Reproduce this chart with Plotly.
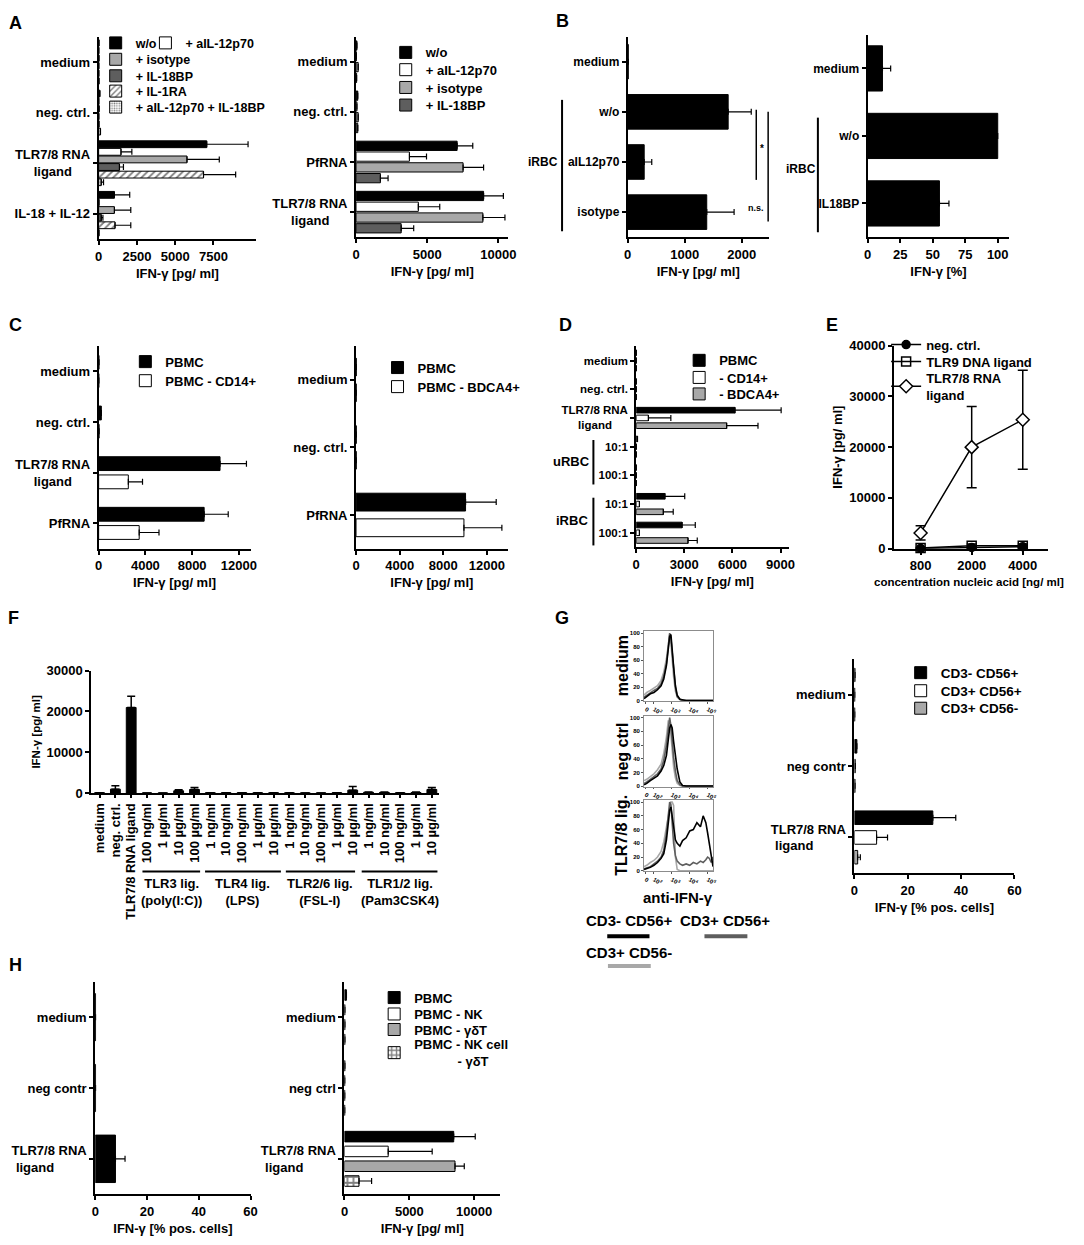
import plotly.graph_objects as go

W, H = 1084, 1245
NB = "\u00a0"

# ======================= DATA =======================
# ---- Panel A (left) ----
a1_categories = ["medium", "neg. ctrl.", "TLR7/8 RNA ligand", "IL-18 + IL-12"]
a1_ticktext = ["medium", "neg. ctrl.", "TLR7/8 RNA<br>ligand" + NB * 5, "IL-18 + IL-12"]
a1_wo = [20, 80, 7060, 1030]
a1_wo_err = [0, 0, 2700, 1000]
a1_ail12 = [10, 10, 1460, 20]
a1_ail12_err = [0, 0, 710, 0]
a1_isotype = [20, 30, 5770, 1030]
a1_isotype_err = [0, 0, 2110, 1070]
a1_il18bp = [10, 10, 1360, 170]
a1_il18bp_err = [0, 0, 260, 110]
a1_il1ra = [10, 20, 6850, 1070]
a1_il1ra_err = [0, 0, 2100, 1030]
a1_combo = [20, 120, 170, 20]
a1_combo_err = [0, 0, 150, 0]
a1_ticks = [0, 2500, 5000, 7500]

# ---- Panel A (right) ----
a2_categories = ["medium", "neg. ctrl.", "PfRNA", "TLR7/8 RNA ligand"]
a2_ticktext = ["medium", "neg. ctrl.", "PfRNA", "TLR7/8 RNA<br>ligand" + NB * 5]
a2_wo = [60, 120, 7100, 8960]
a2_wo_err = [0, 0, 1100, 1390]
a2_ail12 = [20, 60, 3750, 4375]
a2_ail12_err = [0, 0, 1200, 1505]
a2_isotype = [150, 150, 7520, 8910]
a2_isotype_err = [0, 0, 1440, 1550]
a2_il18bp = [40, 120, 1710, 3170]
a2_il18bp_err = [0, 0, 540, 880]

# ---- Panel B ----
b1_categories = ["medium", "w/o", "aIL12p70", "isotype"]
b1_values = [10, 1763, 289, 1387]
b1_err = [0, 405, 133, 480]
b2_categories = ["medium", "w/o", "IL18BP"]
b2_values = [11.4, 100, 55.2]
b2_err = [6.3, 0, 7.3]

# ---- Panel C ----
c1_categories = ["medium", "neg. ctrl.", "TLR7/8 RNA ligand", "PfRNA"]
c1_ticktext = ["medium", "neg. ctrl.", "TLR7/8 RNA<br>ligand" + NB * 5, "PfRNA"]
c1_pbmc = [30, 230, 10390, 9030]
c1_pbmc_err = [0, 0, 2260, 2060]
c1_cd14 = [20, 40, 2540, 3470]
c1_cd14_err = [0, 0, 1215, 1695]
c2_categories = ["medium", "neg. ctrl.", "PfRNA"]
c2_pbmc = [20, 20, 10040]
c2_pbmc_err = [0, 0, 2810]
c2_bdca4 = [20, 20, 9890]
c2_bdca4_err = [0, 0, 3480]

# ---- Panel D ----
d_categories = ["medium", "neg. ctrl.", "TLR7/8 RNA ligand", "uRBC 10:1", "uRBC 100:1", "iRBC 10:1", "iRBC 100:1"]
d_ticktext = ["medium", "neg. ctrl.", "TLR7/8 RNA<br>ligand" + NB * 5, "10:1", "100:1", "10:1", "100:1"]
d_pbmc = [10, 10, 6160, 80, 10, 1790, 2860]
d_pbmc_err = [0, 0, 2880, 0, 0, 1236, 824]
d_cd14 = [10, 10, 760, 10, 10, 200, 200]
d_cd14_err = [0, 0, 1400, 0, 0, 0, 0]
d_bdca4 = [10, 10, 5640, 10, 10, 1690, 3230]
d_bdca4_err = [0, 0, 1956, 0, 0, 618, 577]

# ---- Panel E ----
e_conc = ["800", "2000", "4000"]
e_neg = [50, 250, 400]
e_neg_err = [0, 100, 150]
e_tlr9 = [150, 600, 600]
e_tlr9_err = [100, 300, 300]
e_tlr78 = [3100, 20000, 25400]
e_tlr78_err = [1400, 8000, 9750]

# ---- Panel F ----
f_categories = ["medium", "neg. ctrl.", "TLR7/8 RNA ligand",
                "TLR3 100 ng/ml", "TLR3 1 µg/ml", "TLR3 10 µg/ml", "TLR3 100 µg/ml",
                "TLR4 1 ng/ml", "TLR4 10 ng/ml", "TLR4 100 ng/ml", "TLR4 1 µg/ml", "TLR4 10 µg/ml",
                "TLR2/6 1 ng/ml", "TLR2/6 10 ng/ml", "TLR2/6 100 ng/ml", "TLR2/6 1 µg/ml", "TLR2/6 10 µg/ml",
                "TLR1/2 1 ng/ml", "TLR1/2 10 ng/ml", "TLR1/2 100 ng/ml", "TLR1/2 1 µg/ml", "TLR1/2 10 µg/ml"]
f_ticktext = ["medium", "neg. ctrl.", "TLR7/8 RNA ligand",
              "100 ng/ml", "1 µg/ml", "10 µg/ml", "100 µg/ml",
              "1 ng/ml", "10 ng/ml", "100 ng/ml", "1 µg/ml", "10 µg/ml",
              "1 ng/ml", "10 ng/ml", "100 ng/ml", "1 µg/ml", "10 µg/ml",
              "1 ng/ml", "10 ng/ml", "100 ng/ml", "1 µg/ml", "10 µg/ml"]
f_values = [100, 970, 20970,
            30, 30, 565, 890,
            100, 80, 80, 60, 80,
            60, 50, 50, 80, 730,
            200, 150, 60, 150, 890]
f_err = [0, 810, 2740,
         0, 0, 240, 480,
         0, 0, 0, 0, 0,
         0, 0, 0, 0, 890,
         100, 100, 0, 100, 480]
f_groups = ["TLR3 lig.<br>(poly(I:C))", "TLR4 lig.<br>(LPS)", "TLR2/6 lig.<br>(FSL-I)", "TLR1/2 lig.<br>(Pam3CSK4)"]

# ---- Panel G (flow histograms, display scale: 3 = 10^3) ----
hist_x = [1.45, 1.6, 1.8, 2.0, 2.2, 2.4, 2.55, 2.7, 2.8, 2.88, 2.95, 3.02, 3.1, 3.2,
          3.3, 3.45, 3.6, 3.8, 4.0, 4.2, 4.4, 4.6, 4.75, 4.9, 5.0, 5.1, 5.2, 5.3]
hist_medium_black = [3, 6, 10, 12, 16, 22, 32, 52, 75, 95, 98, 80, 50, 22, 8, 2, 1, 0, 0, 0, 0, 0, 0, 0, 0, 0, 0, 0]
hist_medium_dgray = [5, 8, 12, 15, 18, 25, 36, 55, 80, 100, 92, 72, 45, 20, 6, 2, 0, 0, 0, 0, 0, 0, 0, 0, 0, 0, 0, 0]
hist_medium_lgray = [8, 12, 15, 18, 22, 30, 42, 62, 85, 98, 85, 60, 35, 14, 5, 1, 0, 0, 0, 0, 0, 0, 0, 0, 0, 0, 0, 0]
hist_neg_black = [2, 4, 8, 12, 15, 22, 30, 45, 65, 85, 90, 85, 65, 45, 25, 6, 1, 0, 0, 0, 0, 0, 0, 0, 0, 0, 0, 0]
hist_neg_dgray = [4, 6, 10, 14, 18, 25, 38, 60, 85, 100, 88, 65, 42, 22, 8, 2, 0, 0, 0, 0, 0, 0, 0, 0, 0, 0, 0, 0]
hist_neg_lgray = [8, 10, 14, 18, 24, 32, 48, 72, 95, 95, 75, 50, 28, 12, 4, 1, 0, 0, 0, 0, 0, 0, 0, 0, 0, 0, 0, 0]
hist_tlr_black = [2, 3, 5, 8, 12, 18, 25, 45, 70, 88, 93, 80, 58, 45, 40, 36, 44, 48, 58, 60, 70, 64, 80, 70, 55, 38, 18, 6]
hist_tlr_dgray = [3, 4, 6, 10, 14, 20, 30, 55, 82, 100, 96, 70, 40, 22, 14, 10, 8, 10, 8, 12, 10, 14, 12, 16, 20, 18, 12, 20]
hist_tlr_lgray = [6, 8, 12, 15, 20, 28, 42, 65, 80, 92, 100, 100, 95, 20, 2, 0, 0, 0, 0, 0, 0, 0, 0, 0, 0, 0, 0, 0]
hist_xticks = [1.55, 2.0, 3.0, 4.0, 5.0]
hist_xticktext = ["0", "10<sup>2</sup>", "10<sup>3</sup>", "10<sup>4</sup>", "10<sup>5</sup>"]

# ---- Panel G (bars) ----
g_categories = ["medium", "neg contr", "TLR7/8 RNA ligand"]
g_ticktext = ["medium", "neg contr", "TLR7/8 RNA<br>ligand" + NB * 9]
g_cd3n_cd56p = [0.2, 0.9, 29.4]
g_cd3n_cd56p_err = [0, 0, 8.6]
g_cd3p_cd56p = [0.1, 0.3, 8.3]
g_cd3p_cd56p_err = [0, 0, 4.1]
g_cd3p_cd56n = [0.1, 0.2, 1.2]
g_cd3p_cd56n_err = [0, 0, 1.0]

# ---- Panel H ----
h1_categories = ["medium", "neg contr", "TLR7/8 RNA ligand"]
h1_ticktext = ["medium", "neg contr", "TLR7/8 RNA<br>ligand" + NB * 9]
h1_values = [0.1, 0.1, 7.8]
h1_err = [0, 0, 3.7]
h2_categories = ["medium", "neg ctrl", "TLR7/8 RNA ligand"]
h2_ticktext = ["medium", "neg ctrl", "TLR7/8 RNA<br>ligand" + NB * 9]
h2_pbmc = [150, 30, 8420]
h2_pbmc_err = [0, 0, 1660]
h2_nk = [30, 20, 3370]
h2_nk_err = [0, 0, 3390]
h2_gdt = [30, 20, 8520]
h2_gdt_err = [0, 0, 715]
h2_nk_gdt = [30, 20, 1120]
h2_nk_gdt_err = [0, 0, 970]

# ======================= HELPERS =======================
BLACK, WHITE, LGRAY, DGRAY = "black", "white", "#a8a8a8", "#5e5e5e"
HATCH = dict(shape="/", fgcolor="black", bgcolor="white", size=5, solidity=0.35)
DOTS = dict(shape=".", fgcolor="black", bgcolor="white", size=3, solidity=0.35)
CHECK = dict(shape="+", fgcolor="black", bgcolor="white", size=6, solidity=0.5)
FS = 13


def px(x):
    return x / W


def py(y):
    return 1 - y / H


def xd(l, r):
    return [px(l), px(r)]


def yd(t, b):
    return [py(b), py(t)]


AX = dict(showline=True, linecolor="black", linewidth=2, ticks="outside", tickcolor="black",
          tickwidth=1.5, ticklen=4, showgrid=False, zeroline=False, tickfont=dict(size=FS))

fig = go.Figure()
layout = {}
shapes = []
annotations = []
_leg = [0]


def new_legend(x_sym_left, y_c, size=FS, dx=14):
    _leg[0] += 1
    nm = "legend" if _leg[0] == 1 else "legend%d" % _leg[0]
    layout[nm] = dict(x=px(x_sym_left - dx), y=py(y_c), xanchor="left", yanchor="middle",
                      bgcolor="rgba(0,0,0,0)", borderwidth=0, font=dict(size=size), itemwidth=30,
                      tracegroupgap=0, orientation="v", itemclick=False, itemdoubleclick=False)
    return nm


def names(k):
    s = "" if k == 1 else str(k)
    return "x" + s, "y" + s, "xaxis" + s, "yaxis" + s


def add_hbar_panel(k, box, xrange, dtick, cats, ticktext, series, pitch, thick, xtitle,
                   tickvals=None, fs=FS):
    l, t, r, b = box
    xn, yn, xk, yk = names(k)
    nc = len(cats)
    xa = dict(AX, domain=xd(l, r), anchor=yn, range=xrange, dtick=dtick, tick0=0,
              tickformat="d", title=dict(text=xtitle, font=dict(size=FS), standoff=6))
    if tickvals is not None:
        xa.update(tickmode="array", tickvals=tickvals)
    layout[xk] = xa
    layout[yk] = dict(AX, domain=yd(t, b), anchor=xn, type="category", range=[nc - 0.5, -0.5],
                      tickmode="array", tickvals=cats, ticktext=ticktext,
                      categoryorder="array", categoryarray=cats, tickfont=dict(size=fs))
    n = len(series)
    for i, s in enumerate(series):
        off = -n * pitch / 2 + i * pitch + (pitch - thick) / 2
        marker = dict(color=s.get("color", BLACK), line=dict(color="black", width=1))
        if s.get("pattern"):
            marker["pattern"] = s["pattern"]
        leg = None
        if s.get("leg"):
            leg = new_legend(*s["leg"])
        fig.add_trace(go.Bar(
            x=s["vals"], y=cats, orientation="h", xaxis=xn, yaxis=yn,
            offset=off, width=thick, marker=marker, name=s.get("name", ""),
            error_x=dict(type="data", symmetric=False, array=s["errs"],
                         arrayminus=[0] * len(s["errs"]), color="black", thickness=1.2, width=3),
            showlegend=leg is not None, legend=leg if leg else "legend", cliponaxis=False))


def vline(x, y0, y1, width=2, color="black"):
    shapes.append(dict(type="line", xref="paper", yref="paper", x0=px(x), x1=px(x),
                       y0=py(y0), y1=py(y1), line=dict(color=color, width=width)))


def hline(x0, x1, y, width=2, color="black"):
    shapes.append(dict(type="line", xref="paper", yref="paper", x0=px(x0), x1=px(x1),
                       y0=py(y), y1=py(y), line=dict(color=color, width=width)))


def text(t, x, y, size=FS, xanchor="center", yanchor="middle", angle=0):
    annotations.append(dict(text=t, x=px(x), y=py(y), xref="paper", yref="paper", showarrow=False,
                            xanchor=xanchor, yanchor=yanchor, font=dict(size=size), textangle=angle))


# ======================= PANEL A =======================
add_hbar_panel(1, (95.7, 30, 255, 235), [0, 10290], 2500, a1_categories, a1_ticktext, [
    dict(name="w/o", vals=a1_wo, errs=a1_wo_err, color=BLACK, leg=(106.7, 36.7, 12.5)),
    dict(name="+ aIL-12p70", vals=a1_ail12, errs=a1_ail12_err, color=WHITE, leg=(157, 36.7, 12.5)),
    dict(name="+ isotype", vals=a1_isotype, errs=a1_isotype_err, color=LGRAY, leg=(106.7, 53.3, 12.5)),
    dict(name="+ IL-18BP", vals=a1_il18bp, errs=a1_il18bp_err, color=DGRAY, leg=(106.7, 70, 12.5)),
    dict(name="+ IL-1RA", vals=a1_il1ra, errs=a1_il1ra_err, color=WHITE, pattern=HATCH, leg=(106.7, 85.5, 12.5)),
    dict(name="+ aIL-12p70 + IL-18BP", vals=a1_combo, errs=a1_combo_err, color=WHITE, pattern=DOTS,
         leg=(106.7, 101.7, 12.5)),
], 0.15, 0.135, "IFN-γ [pg/ ml]", tickvals=a1_ticks)

add_hbar_panel(2, (356, 30, 510, 233), [0, 10700], 5000, a2_categories, a2_ticktext, [
    dict(name="w/o", vals=a2_wo, errs=a2_wo_err, color=BLACK, leg=(400, 46)),
    dict(name="+ aIL-12p70", vals=a2_ail12, errs=a2_ail12_err, color=WHITE, leg=(400, 63.5)),
    dict(name="+ isotype", vals=a2_isotype, errs=a2_isotype_err, color=LGRAY, leg=(400, 81.5)),
    dict(name="+ IL-18BP", vals=a2_il18bp, errs=a2_il18bp_err, color=DGRAY, leg=(400, 99.3)),
], 0.215, 0.185, "IFN-γ [pg/ ml]")

# ======================= PANEL B =======================
add_hbar_panel(3, (630.7, 30, 773.3, 233), [0, 2475], 1000, b1_categories, b1_categories, [
    dict(vals=b1_values, errs=b1_err, color=BLACK)], 0.69, 0.69, "IFN-γ [pg/ ml]", fs=12)
add_hbar_panel(4, (873.3, 28, 1016.7, 233), [0, 109], 25, b2_categories, b2_categories, [
    dict(vals=b2_values, errs=b2_err, color=BLACK)], 0.67, 0.67, "IFN-γ [%]", fs=12)
text("iRBC", 545, 157, size=12)
vline(564.3, 94, 227)
vline(760.7, 104, 175, width=1.5)
text("*", 766, 143, size=10)
vline(772.7, 106, 217, width=1.5)
text("n.s.", 760.5, 203, size=9)
text("iRBC", 806, 164, size=12)
vline(823, 112, 228)

# ======================= PANEL C =======================
add_hbar_panel(5, (95.7, 343.3, 249.3, 548.3), [0, 13000], 4000, c1_categories, c1_ticktext, [
    dict(name="PBMC", vals=c1_pbmc, errs=c1_pbmc_err, color=BLACK, leg=(136.7, 359)),
    dict(name="PBMC - CD14+", vals=c1_cd14, errs=c1_cd14_err, color=WHITE, leg=(136.7, 378.3)),
], 0.36, 0.273, "IFN-γ [pg/ ml]")

add_hbar_panel(6, (356, 343.3, 509.3, 548.3), [0, 13900], 4000, c2_categories, c2_categories, [
    dict(name="PBMC", vals=c2_pbmc, errs=c2_pbmc_err, color=BLACK, leg=(391.7, 365)),
    dict(name="PBMC - BDCA4+", vals=c2_bdca4, errs=c2_bdca4_err, color=WHITE, leg=(391.7, 384.3)),
], 0.38, 0.264, "IFN-γ [pg/ ml]")

# ======================= PANEL D =======================
add_hbar_panel(7, (639.3, 343.3, 793.3, 546.7), [0, 9500], 3000, d_categories, d_ticktext, [
    dict(name="PBMC", vals=d_pbmc, errs=d_pbmc_err, color=BLACK, leg=(696.7, 357.7)),
    dict(name="- CD14+", vals=d_cd14, errs=d_cd14_err, color=WHITE, leg=(696.7, 375)),
    dict(name="- BDCA4+", vals=d_bdca4, errs=d_bdca4_err, color=LGRAY, leg=(696.7, 391.7)),
], 0.27, 0.196, "IFN-γ [pg/ ml]", fs=11.5)
text("uRBC", 574, 460)
vline(596, 438.3, 483.3)
text("iRBC", 574, 520)
vline(596, 496.7, 545)

# ======================= PANEL E =======================
xn, yn, xk, yk = names(8)
layout[xk] = dict(AX, domain=xd(900, 1056), anchor=yn, type="category", range=[-0.52, 2.5])
layout[yk] = dict(AX, domain=yd(342.7, 548.3), anchor=xn, range=[0, 40000], dtick=10000, tickformat="d",
                  title=dict(text="IFN-γ [pg/ ml]", font=dict(size=FS), standoff=4))
text("concentration nucleic acid [ng/ ml]", 976, 582, size=11.5)
for nm, vals, errs, sym, col, sz, lpos in [
    ("neg. ctrl.", e_neg, e_neg_err, "circle", BLACK, 8, (912, 341.7)),
    ("TLR9 DNA ligand", e_tlr9, e_tlr9_err, "square-open", BLACK, 9, (912, 359)),
    ("TLR7/8 RNA<br>ligand", e_tlr78, e_tlr78_err, "diamond", WHITE, 10, (912, 384)),
]:
    fig.add_trace(go.Scatter(
        x=e_conc, y=vals, xaxis=xn, yaxis=yn, mode="lines+markers", name=nm,
        line=dict(color="black", width=1.5),
        marker=dict(symbol=sym, size=sz, color=col, line=dict(color="black", width=1.5)),
        error_y=dict(type="data", array=errs, color="black", thickness=1.5, width=5),
        cliponaxis=False, legend=new_legend(lpos[0], lpos[1], FS, 20)))

# ======================= PANEL F =======================
xn, yn, xk, yk = names(9)
layout[xk] = dict(AX, domain=xd(88.3, 440), anchor=yn, type="category", range=[-0.52, 21.46],
                  tickmode="array", tickvals=f_categories, ticktext=f_ticktext, tickangle=-90,
                  categoryorder="array", categoryarray=f_categories, ticklen=3, tickfont=dict(size=FS))
layout[yk] = dict(AX, domain=yd(671.7, 795.7), anchor=xn, range=[0, 30000], dtick=10000, tickformat="d",
                  title=dict(text="IFN-γ [pg/ ml]", font=dict(size=11.5), standoff=4))
fig.add_trace(go.Bar(
    x=f_categories, y=f_values, xaxis=xn, yaxis=yn, width=0.62, offset=-0.31,
    marker=dict(color=BLACK, line=dict(color="black", width=1)),
    error_y=dict(type="data", symmetric=False, array=f_err, arrayminus=[0] * len(f_err),
                 color="black", thickness=1.5, width=4),
    showlegend=False, cliponaxis=False))
for (x0, x1), lab in zip([(140, 198.3), (203.3, 280), (285, 355), (361.7, 438.3)], f_groups):
    hline(x0, x1, 875)
    text(lab, (x0 + x1) / 2, 878, size=FS, yanchor="top")

# ======================= PANEL G (histograms) =======================
hist_boxes = [(631.7, 702.7), (717.3, 789.3), (802.7, 875)]
hist_sets = [
    (hist_medium_lgray, hist_medium_dgray, hist_medium_black),
    (hist_neg_lgray, hist_neg_dgray, hist_neg_black),
    (hist_tlr_lgray, hist_tlr_dgray, hist_tlr_black),
]
hist_labels = ["medium", "neg ctrl", "TLR7/8 lig."]
for j, ((t, b), curves, lab) in enumerate(zip(hist_boxes, hist_sets, hist_labels)):
    k = 10 + j
    xn, yn, xk, yk = names(k)
    layout[xk] = dict(domain=xd(646.7, 717.3), anchor=yn, range=[1.42, 5.32], showline=True, mirror=True,
                      linecolor="#8c8c8c", linewidth=1, showgrid=False, zeroline=False, ticks="outside",
                      ticklen=1.5, tickcolor="#555", tickmode="array", tickvals=hist_xticks,
                      ticktext=hist_xticktext, tickfont=dict(size=6))
    layout[yk] = dict(domain=yd(t, b), anchor=xn, range=[-1, 103], showline=True, mirror=True,
                      linecolor="#8c8c8c", linewidth=1, showgrid=False, zeroline=False, ticks="outside",
                      ticklen=1.5, tickcolor="#555", tickmode="array", tickvals=[0, 20, 40, 60, 80, 100],
                      tickfont=dict(size=6))
    for ys, col in zip(curves, [LGRAY, DGRAY, BLACK]):
        fig.add_trace(go.Scatter(x=hist_x, y=ys, xaxis=xn, yaxis=yn, mode="lines",
                                 line=dict(color=col, width=1.6), showlegend=False))
    text(lab, 625, (t + b) / 2, size=16, angle=-90)
text("anti-IFN-γ", 681.7, 901.7, size=15)
text("CD3- CD56+", 586, 925, size=15, xanchor="left")
text("CD3+ CD56+", 682, 925, size=15, xanchor="left")
text("CD3+ CD56-", 586, 956.7, size=15, xanchor="left")
hline(610, 652.7, 940.7, width=4, color=BLACK)
hline(708.3, 751.7, 940.7, width=4, color=DGRAY)
hline(610.7, 654, 970.7, width=4, color=LGRAY)

# ======================= PANEL G (bars) =======================
add_hbar_panel(13, (860, 660, 1021.7, 876.7), [0, 60], 20, g_categories, g_ticktext, [
    dict(name="CD3- CD56+", vals=g_cd3n_cd56p, errs=g_cd3n_cd56p_err, color=BLACK, leg=(920.7, 674, 13.5)),
    dict(name="CD3+ CD56+", vals=g_cd3p_cd56p, errs=g_cd3p_cd56p_err, color=WHITE, leg=(920.7, 692.3, 13.5)),
    dict(name="CD3+ CD56-", vals=g_cd3p_cd56n, errs=g_cd3p_cd56n_err, color=LGRAY, leg=(920.7, 710, 13.5)),
], 0.277, 0.19, "IFN-γ [% pos. cells]")

# ======================= PANEL H =======================
add_hbar_panel(14, (92.3, 986.7, 249.3, 1201.7), [0, 60], 20, h1_categories, h1_ticktext, [
    dict(vals=h1_values, errs=h1_err, color=BLACK)], 0.67, 0.67, "IFN-γ [% pos. cells]")
add_hbar_panel(15, (344.3, 986.7, 501.7, 1201.7), [0, 12000], 5000, h2_categories, h2_ticktext, [
    dict(name="PBMC", vals=h2_pbmc, errs=h2_pbmc_err, color=BLACK, leg=(388.3, 1002.7)),
    dict(name="PBMC - NK", vals=h2_nk, errs=h2_nk_err, color=WHITE, leg=(388.3, 1019.3)),
    dict(name="PBMC - γδT", vals=h2_gdt, errs=h2_gdt_err, color=LGRAY, leg=(388.3, 1035)),
    dict(name="PBMC - NK cell<br>" + NB * 12 + "- γδT", vals=h2_nk_gdt, errs=h2_nk_gdt_err, color=WHITE,
         pattern=CHECK, leg=(388.3, 1058.5)),
], 0.209, 0.149, "IFN-γ [pg/ ml]")

# ======================= PANEL LETTERS =======================
for letter, x, y in [("A", 3, 16), ("B", 556, 14), ("C", 3, 321.7), ("D", 559, 321.7),
                     ("E", 829, 321.7), ("F", 2, 618), ("G", 555, 618), ("H", 3, 970)]:
    text(letter, x, y, size=18, xanchor="left")

fig.update_layout(
    width=W, height=H, margin=dict(l=0, r=0, t=0, b=0),
    paper_bgcolor="white", plot_bgcolor="white",
    font=dict(family="Liberation Sans, Arial, sans-serif", size=FS, color="black", weight="bold"),
    barmode="overlay", shapes=shapes, annotations=annotations, **layout)

# pin the figure to the top-left corner of the page so the window shows it 1:1
pin = ("var d=document.getElementById('{plot_id}');"
       "d.style.position='fixed';d.style.left='0px';d.style.top='0px';"
       "document.documentElement.style.overflow='hidden';"
       "document.body.style.margin='0';document.body.style.overflow='hidden';")
fig.write_html("out.html", config={"displayModeBar": False}, post_script=pin)
